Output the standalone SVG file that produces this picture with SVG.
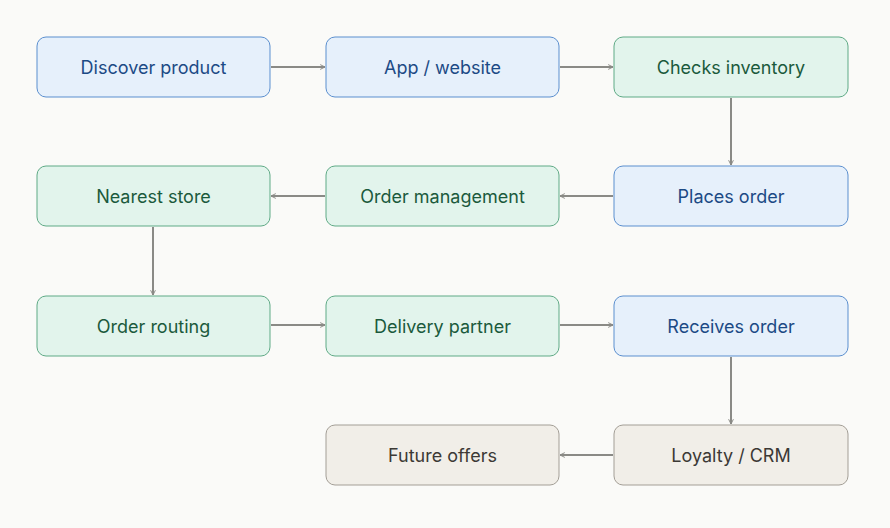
<svg xmlns="http://www.w3.org/2000/svg" width="890" height="528" viewBox="0 0 890 528">
<style>
rect.n{stroke-width:1}
.b rect{fill:#e6f0fb;stroke:#5b8fcf}
.b text{fill:#1c4a85}
.g rect{fill:#e2f4ec;stroke:#5faa86}
.g text{fill:#1b5a3c}
.w rect{fill:#f1eee8;stroke:#a39e96}
.w text{fill:#3c3935}
text{font-family:Inter,"Noto Sans",sans-serif;font-size:18px;text-anchor:middle;dominant-baseline:central}
.c line{stroke:#8a8a86;stroke-width:2;marker-end:url(#a)}
</style>
<defs><marker id="a" viewBox="0 0 10 10" refX="9" refY="5" markerWidth="6" markerHeight="6" markerUnits="userSpaceOnUse" orient="auto"><path d="M1 1L9 5L1 9" fill="none" stroke="#8a8a86" stroke-width="1.6"/></marker></defs>
<rect width="890" height="528" fill="#fafaf8"/>
<g class="c">
<line x1="271" y1="67" x2="325" y2="67"/>
<line x1="560" y1="67" x2="613" y2="67"/>
<line x1="731" y1="98" x2="731" y2="165"/>
<line x1="613" y1="196" x2="560" y2="196"/>
<line x1="325" y1="196" x2="271" y2="196"/>
<line x1="153" y1="227" x2="153" y2="295"/>
<line x1="271" y1="325" x2="325" y2="325"/>
<line x1="560" y1="325" x2="613" y2="325"/>
<line x1="731" y1="357" x2="731" y2="424"/>
<line x1="613" y1="455" x2="560" y2="455"/>
</g>
<g id="n1" class="b"><rect x="37" y="37" width="233" height="60" rx="9"/><text x="153.5" y="67">Discover product</text></g>
<g id="n2" class="b"><rect x="326" y="37" width="233" height="60" rx="9"/><text x="442.5" y="67">App / website</text></g>
<g id="n3" class="g"><rect x="614" y="37" width="234" height="60" rx="9"/><text x="731" y="67">Checks inventory</text></g>
<g id="n4" class="b"><rect x="614" y="166" width="234" height="60" rx="9"/><text x="731" y="196">Places order</text></g>
<g id="n5" class="g"><rect x="326" y="166" width="233" height="60" rx="9"/><text x="442.5" y="196">Order management</text></g>
<g id="n6" class="g"><rect x="37" y="166" width="233" height="60" rx="9"/><text x="153.5" y="196">Nearest store</text></g>
<g id="n7" class="g"><rect x="37" y="296" width="233" height="60" rx="9"/><text x="153.5" y="326">Order routing</text></g>
<g id="n8" class="g"><rect x="326" y="296" width="233" height="60" rx="9"/><text x="442.5" y="326">Delivery partner</text></g>
<g id="n9" class="b"><rect x="614" y="296" width="234" height="60" rx="9"/><text x="731" y="326">Receives order</text></g>
<g id="n10" class="w"><rect x="614" y="425" width="234" height="60" rx="9"/><text x="731" y="455">Loyalty / CRM</text></g>
<g id="n11" class="w"><rect x="326" y="425" width="233" height="60" rx="9"/><text x="442.5" y="455">Future offers</text></g>
</svg>
